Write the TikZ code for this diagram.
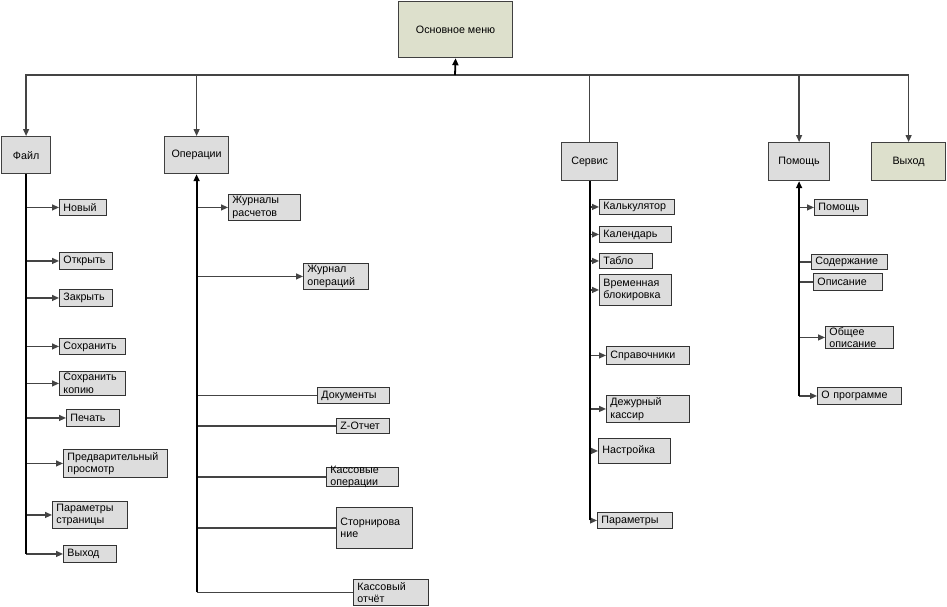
\documentclass[tikz,border=0pt]{standalone}
\usepackage{fontspec}
\setmainfont{Liberation Sans}
\usepackage{xcolor}
\usepackage{tikz}
\usetikzlibrary{arrows.meta}
\definecolor{menufill}{HTML}{DDE0CC}
\definecolor{boxfill}{HTML}{DDDDDD}
\definecolor{linegray}{HTML}{444444}

\begin{document}
\begin{tikzpicture}[x=1pt, y=-1pt, >={Triangle[length=7pt, width=6pt]},
    every node/.style={font=\fontsize{10.7}{12.5}\selectfont},
    menubox/.style={draw=black!75, line width=1.2pt, fill=boxfill, anchor=north west, inner sep=0pt},
    itembox/.style={draw=black!80, line width=0.9pt, fill=boxfill, anchor=north west, align=left, text width=#1, inner xsep=4pt, inner ysep=1pt},
    trunk/.style={line width=1.8pt},
    branch/.style={draw=linegray, line width=1.3pt}]
        \useasboundingbox (0,0) rectangle (947,606);
        \node (menu) [menubox, fill=menufill, minimum width=114pt, minimum height=56pt] at (398,1) {Основное меню};
        \node (fajl) [menubox, minimum width=49pt, minimum height=37pt] at (1,136) {Файл};
        \node (oper) [menubox, minimum width=64pt, minimum height=37pt] at (164,136) {Операции};
        \node (servis) [menubox, minimum width=56pt, minimum height=38pt] at (561,142) {Сервис};
        \node (pomosh) [menubox, minimum width=61pt, minimum height=38pt] at (768,142) {Помощь};
        \node (vyhod) [menubox, fill=menufill, minimum width=74pt, minimum height=38pt] at (871,142) {Выход};
        \coordinate (bus) at (455,75);

        \node (novyj) [itembox=39pt, minimum height=16pt] at (59,199) {Новый};
        \node (otkryt) [itembox=45pt, minimum height=17pt] at (59,252) {Открыть};
        \node (zakryt) [itembox=45pt, minimum height=17pt] at (59,289) {Закрыть};
        \node (sohranit) [itembox=58pt, minimum height=16pt] at (59,338) {Сохранить};
        \node (sohrkopiyu) [itembox=58pt, minimum height=24pt, inner ysep=0pt] at (59,371) {Сохранить\\копию};
        \node (pechat) [itembox=45pt, minimum height=17pt] at (66,409) {Печать};
        \node (predv) [itembox=96pt, minimum height=28pt] at (63,449) {Предварительный\\просмотр};
        \node (parametry) [itembox=67pt, minimum height=27pt] at (52,501) {Параметры\\страницы};
        \node (vyhodf) [itembox=45pt, minimum height=17pt] at (63,545) {Выход};

        \node (zhurnaly) [itembox=64pt, minimum height=26pt] at (228,194) {Журналы\\расчетов};
        \node (zhurnal) [itembox=57pt, minimum height=26pt] at (303,263) {Журнал\\операций};
        \node (dokumenty) [itembox=64pt, minimum height=16pt] at (317,387) {Документы};
        \node (zotchet) [itembox=45pt, minimum height=15pt] at (336,418) {Z-Отчет};
        \node (kassoper) [itembox=64pt, minimum height=19pt, inner ysep=-2pt] at (326,467) {Кассовые\\операции};
        \node (storno) [itembox=68pt, minimum height=41pt] at (336,507) {Сторнирова\\ние};
        \node (kassotchet) [itembox=67pt, minimum height=26pt] at (353,579) {Кассовый\\отчёт};

        \node (kalk) [itembox=67pt, minimum height=15pt] at (599,199) {Калькулятор};
        \node (kalend) [itembox=64pt, minimum height=16pt] at (599,226) {Календарь};
        \node (tablo) [itembox=45pt, minimum height=15pt] at (599,253) {Табло};
        \node (vremblok) [itembox=64pt, minimum height=31pt] at (599,274) {Временная\\блокировка};
        \node (sprav) [itembox=75pt, minimum height=18pt] at (606,346) {Справочники};
        \node (dezhur) [itembox=75pt, minimum height=27pt] at (606,395) {Дежурный\\кассир};
        \node (nastr) [itembox=64pt, minimum height=25pt] at (598,438) {Настройка};
        \node (param) [itembox=67pt, minimum height=16pt] at (597,512) {Параметры};

        \node (pomosh2) [itembox=45pt, minimum height=16pt] at (814,199) {Помощь};
        \node (soderzh) [itembox=68pt, minimum height=15pt] at (811,254) {Содержание};
        \node (opis) [itembox=61pt, minimum height=17pt] at (813,273) {Описание};
        \node (obshee) [itembox=60pt, minimum height=22pt, inner ysep=-1pt] at (825,326) {Общее\\описание};
        \node (oprog) [itembox=76pt, minimum height=17pt] at (817,387) {О программе};

        \draw[branch, ->] (bus) -| (fajl.north);
        \draw[branch, ->] (bus) -| (oper.north);
        \draw[branch] (bus) -| (servis.north);
        \draw[branch, ->] (bus) -| (pomosh.north);
        \draw[branch, ->] (bus) -| (vyhod.north);
        \draw[trunk, ->] (bus) -- (menu.south);

        \foreach \c in {novyj, otkryt, zakryt, sohranit, sohrkopiyu, pechat, predv, parametry, vyhodf}
            \draw[branch, ->] (fajl.south |- \c.west) -- (\c.west);
        \foreach \c in {zhurnaly, zhurnal}
            \draw[branch, ->] (oper.south |- \c.west) -- (\c.west);
        \foreach \c in {dokumenty, zotchet, kassoper, storno, kassotchet}
            \draw[branch] (oper.south |- \c.west) -- (\c.west);
        \foreach \c in {kalk, kalend, tablo, vremblok, sprav, dezhur, nastr, param}
            \draw[branch, ->] (servis.south |- \c.west) -- (\c.west);
        \foreach \c in {pomosh2, obshee, oprog}
            \draw[branch, ->] (pomosh.south |- \c.west) -- (\c.west);
        \foreach \c in {soderzh, opis}
            \draw[branch] (pomosh.south |- \c.west) -- (\c.west);

        \draw[trunk] (fajl.south) -- (fajl.south |- vyhodf.west);
        \draw[trunk, <-] (oper.south) -- (oper.south |- kassotchet.west);
        \draw[trunk] (servis.south) -- (servis.south |- param.west);
        \draw[trunk, <-] (pomosh.south) -- (pomosh.south |- oprog.west);
    \end{tikzpicture}
\end{document}
